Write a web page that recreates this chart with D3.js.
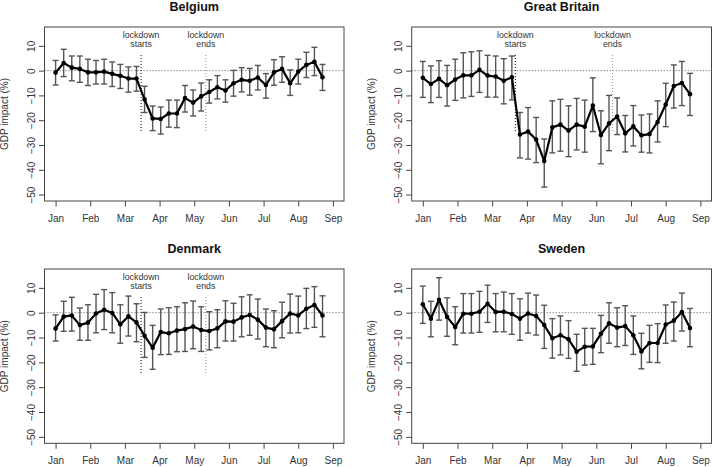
<!DOCTYPE html>
<html><head><meta charset="utf-8">
<script src="https://cdn.jsdelivr.net/npm/d3@7"></script>
<style>
body{margin:0;background:#fff;}
svg{display:block;font-family:"Liberation Sans",Arial,sans-serif;}
</style></head>
<body><svg id="c" width="712" height="467"></svg>
<script>
// ---- data ----
const countries = ["Belgium", "Great Britain", "Denmark", "Sweden"];
const monthLabels = ["Jan","Feb","Mar","Apr","May","Jun","Jul","Aug","Sep"];
const monthDays = [0,30,60,90,120,150,180,210,240];
const weekDays = [0,7,14,21,28,35,42,49,56,63,70,77,84,91,98,105,112,119,126,133,140,147,154,161,168,175,182,189,196,203,210,217,224,231];
const yTicks = [10,0,-10,-20,-30,-40,-50];

const belgiumValue = [-0.8,3.1,1.2,0.7,-0.7,-0.7,-0.4,-1.3,-2.1,-3.2,-3.2,-11.6,-19.3,-19.5,-17.3,-17.3,-11.1,-12.9,-10.4,-8.6,-6.7,-8.0,-5.1,-3.7,-4.1,-2.8,-5.8,-0.7,0.7,-5.1,-0.4,2.3,3.6,-2.7];
const belgiumUpper = [4.1,8.6,5.9,5.9,4.6,4.1,4.6,3.5,2.5,1.5,1.7,-6.3,-14.3,-14.7,-11.9,-11.9,-6.0,-7.8,-5.0,-3.7,-2.0,-3.7,0.1,1.2,0.9,2.1,-1.2,4.4,5.6,0.3,4.6,7.4,9.4,2.5];
const belgiumLower = [-5.8,-2.4,-4.1,-4.7,-6.0,-5.4,-5.4,-6.4,-7.2,-8.7,-8.3,-16.9,-24.2,-25.6,-22.8,-23.0,-16.7,-18.3,-16.3,-13.1,-11.4,-12.7,-10.3,-8.6,-9.9,-7.8,-11.1,-5.9,-4.7,-10.0,-5.4,-2.8,-2.0,-8.0];

const britainValue = [-2.9,-5.4,-3.3,-5.9,-3.6,-1.9,-1.9,0.3,-2.0,-2.4,-4.1,-2.7,-25.8,-24.6,-27.8,-36.5,-22.9,-21.8,-24.2,-21.8,-22.6,-14.1,-26.0,-21.3,-18.5,-25.3,-22.5,-26.1,-25.6,-20.7,-13.7,-6.2,-5.0,-9.5];
const britainUpper = [3.7,1.9,4.0,2.1,4.6,7.2,7.6,8.0,6.2,5.9,4.8,5.9,-16.9,-14.9,-18.9,-27.6,-12.2,-11.6,-14.2,-11.2,-11.9,-2.9,-16.2,-10.0,-11.0,-18.1,-14.1,-17.9,-17.5,-12.2,-5.1,2.3,3.7,-1.1];
const britainLower = [-10.8,-12.9,-10.8,-14.3,-12.0,-11.0,-10.4,-8.8,-10.7,-10.7,-13.4,-11.8,-35.2,-35.7,-37.1,-47.0,-33.2,-32.5,-34.7,-32.0,-32.9,-24.6,-37.6,-32.3,-25.8,-32.8,-30.4,-32.9,-33.2,-28.8,-22.6,-15.1,-14.1,-18.1];

const denmarkValue = [-6.4,-1.6,-1.1,-5.0,-4.0,-0.3,1.2,-0.1,-4.7,-1.5,-3.9,-9.3,-14.1,-7.8,-8.3,-7.2,-6.6,-5.6,-7.0,-7.4,-6.3,-3.5,-3.6,-1.9,-0.9,-2.8,-6.0,-6.7,-3.4,-0.3,-1.1,1.6,3.1,-1.1];
const denmarkUpper = [-0.9,4.6,6.2,1.9,3.2,7.4,9.3,8.1,3.2,6.7,3.6,0.1,-5.1,1.5,2.0,2.4,4.0,4.7,2.4,0.4,1.2,4.8,3.8,6.4,7.2,5.5,1.5,0.8,4.2,7.5,6.7,9.8,10.5,6.8];
const denmarkLower = [-11.4,-7.5,-7.4,-11.1,-11.1,-8.1,-6.8,-8.1,-12.3,-9.4,-11.7,-18.0,-22.8,-16.9,-16.8,-15.7,-15.6,-14.5,-15.6,-15.0,-14.1,-11.4,-11.4,-9.7,-9.1,-10.6,-13.7,-14.1,-10.1,-8.2,-8.1,-6.4,-5.9,-9.7];

const swedenValue = [3.4,-2.4,5.2,-1.7,-5.8,-0.4,-0.4,0.4,3.6,0.3,0.4,-0.5,-2.4,-0.3,-1.3,-5.0,-10.3,-9.1,-10.7,-15.7,-13.7,-13.6,-8.5,-4.3,-6.0,-5.4,-9.1,-15.6,-12.2,-12.2,-4.8,-3.2,0.3,-6.2];
const swedenUpper = [10.7,4.6,14.1,6.0,2.4,7.7,7.7,8.6,11.1,7.7,8.3,7.7,5.6,7.9,7.1,3.0,-2.4,-1.3,-3.2,-8.7,-6.3,-6.3,-1.1,4.0,2.0,2.8,-1.3,-8.3,-5.1,-4.4,3.1,4.3,7.9,1.7];
const swedenLower = [-4.3,-9.7,-3.0,-9.5,-12.9,-8.2,-8.2,-7.9,-3.9,-7.7,-7.7,-8.7,-11.1,-8.2,-9.0,-14.4,-18.3,-17.0,-18.4,-23.6,-21.1,-20.8,-16.1,-12.3,-13.7,-13.2,-16.8,-22.6,-20.0,-20.1,-12.3,-11.4,-7.4,-13.7];

const lockdownStartDay = [74, 80, 74, null];
const lockdownEndDay = [130, 164, 130, null];

// ---- drawing ----
const series = [
  {v: belgiumValue, lo: belgiumLower, hi: belgiumUpper},
  {v: britainValue, lo: britainLower, hi: britainUpper},
  {v: denmarkValue, lo: denmarkLower, hi: denmarkUpper},
  {v: swedenValue, lo: swedenLower, hi: swedenUpper}
];
const boxes = [
  {l: 44.5, r: 344, t: 27, b: 201},
  {l: 411.7, r: 711.5, t: 27, b: 201},
  {l: 44.5, r: 344, t: 269, b: 443.3},
  {l: 411.7, r: 711.5, t: 269, b: 443.3}
];
const svg = d3.select("#c");
const txt = "#333";

countries.forEach((name, i) => {
  const bx = boxes[i], s = series[i];
  const x = d3.scaleLinear().domain([-9.6, 249.6]).range([bx.l, bx.r]);
  const y = d3.scaleLinear().domain([-52.6, 17.6]).range([bx.b, bx.t]);
  const g = svg.append("g");

  // title
  g.append("text").attr("x", (bx.l + bx.r) / 2).attr("y", bx.t - 16.5)
    .attr("text-anchor", "middle").attr("font-weight", "bold").attr("font-size", 12.5)
    .attr("fill", "#111").text(name);

  // y label
  g.append("text").attr("transform", `translate(${bx.l - 37},${(bx.t + bx.b) / 2}) rotate(-90)`)
    .attr("text-anchor", "middle").attr("font-size", 10).attr("fill", txt).text("GDP impact (%)");

  // zero line
  g.append("line").attr("x1", bx.l).attr("x2", bx.r).attr("y1", y(0)).attr("y2", y(0))
    .attr("stroke", "#555").attr("stroke-width", 1).attr("stroke-dasharray", "1,2");

  // lockdown lines
  const ldLines = [
    {d: lockdownStartDay[i], label: "starts", col: "#222"},
    {d: lockdownEndDay[i], label: "ends", col: "#999"}
  ];
  ldLines.forEach(ld => {
    if (ld.d == null) return;
    g.append("line").attr("x1", x(ld.d)).attr("x2", x(ld.d)).attr("y1", y(6.3)).attr("y2", y(-25))
      .attr("stroke", ld.col).attr("stroke-width", 1.1).attr("stroke-dasharray", "1,2");
    const t = g.append("text").attr("x", x(ld.d)).attr("y", bx.t + 10.5).attr("text-anchor", "middle")
      .attr("font-size", 8.8).attr("fill", txt);
    t.append("tspan").attr("x", x(ld.d)).text("lockdown");
    t.append("tspan").attr("x", x(ld.d)).attr("dy", 9.5).text(ld.label);
  });

  // error bars
  const eb = g.append("g").attr("stroke", "#555").attr("stroke-width", 1.4).attr("fill", "none");
  weekDays.forEach((d, k) => {
    const xx = x(d);
    eb.append("line").attr("x1", xx).attr("x2", xx).attr("y1", y(s.hi[k])).attr("y2", y(s.lo[k]));
    eb.append("line").attr("x1", xx - 3).attr("x2", xx + 3).attr("y1", y(s.hi[k])).attr("y2", y(s.hi[k]));
    eb.append("line").attr("x1", xx - 3).attr("x2", xx + 3).attr("y1", y(s.lo[k])).attr("y2", y(s.lo[k]));
  });

  // line
  const line = d3.line().x((d, k) => x(weekDays[k])).y(d => y(d));
  g.append("path").datum(s.v).attr("d", line).attr("fill", "none")
    .attr("stroke", "#000").attr("stroke-width", 2.2).attr("stroke-linejoin", "round");
  g.selectAll("circle.pt").data(s.v).enter().append("circle")
    .attr("cx", (d, k) => x(weekDays[k])).attr("cy", d => y(d)).attr("r", 2.3).attr("fill", "#000");

  // box
  g.append("rect").attr("x", bx.l).attr("y", bx.t).attr("width", bx.r - bx.l).attr("height", bx.b - bx.t)
    .attr("fill", "none").attr("stroke", "#444").attr("stroke-width", 1);

  // x axis
  const xa = g.append("g").attr("transform", `translate(0,${bx.b})`)
    .call(d3.axisBottom(x).tickValues(monthDays).tickFormat((d, k) => monthLabels[k]).tickSize(5.5).tickPadding(8));
  xa.select(".domain").remove();
  xa.selectAll("line").attr("stroke", "#444");
  xa.selectAll("text").attr("font-size", 10).attr("fill", txt).attr("font-family", "Liberation Sans, Arial, sans-serif");

  // y axis
  const ya = g.append("g").attr("transform", `translate(${bx.l},0)`)
    .call(d3.axisLeft(y).tickValues(yTicks).tickSize(5.5).tickFormat(d3.format("d")));
  ya.select(".domain").remove();
  ya.selectAll("line").attr("stroke", "#444");
  ya.selectAll("text").attr("font-size", 10).attr("fill", txt).attr("font-family", "Liberation Sans, Arial, sans-serif")
    .attr("x", null).attr("dy", null).attr("text-anchor", "middle")
    .attr("transform", "translate(-13,0) rotate(-90)").attr("dy", "0.35em");
});
</script></body></html>
